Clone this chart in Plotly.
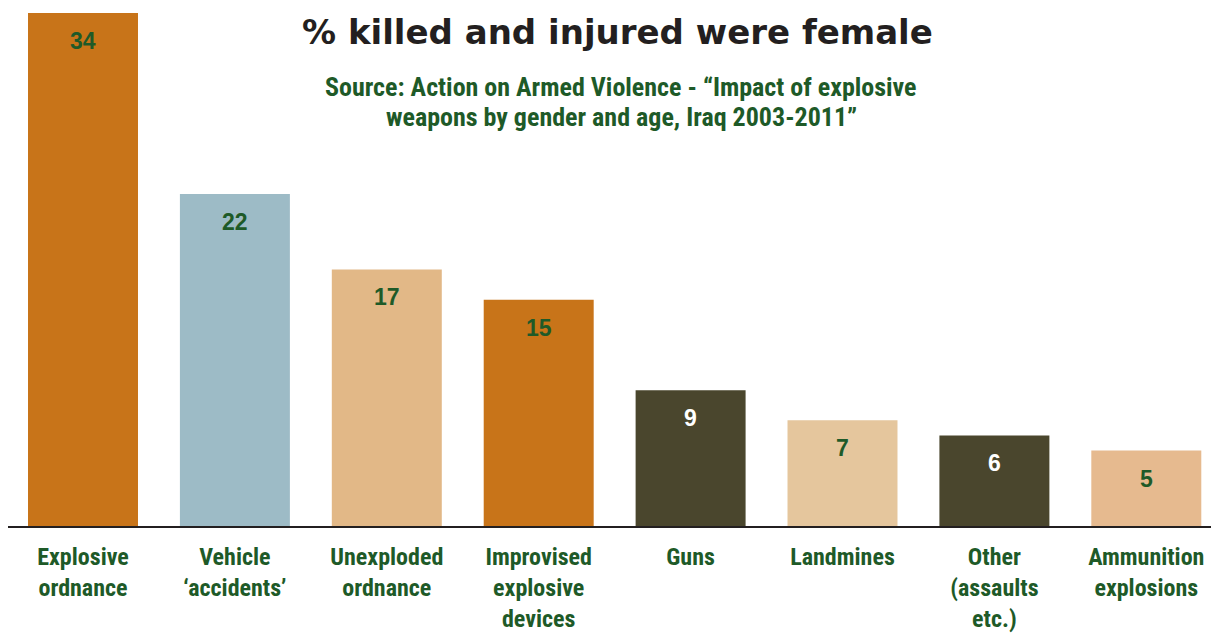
import plotly.graph_objects as go

categories = ["Explosive<br>ordnance", "Vehicle<br>‘accidents’", "Unexploded<br>ordnance",
              "Improvised<br>explosive<br>devices", "Guns", "Landmines",
              "Other<br>(assaults<br>etc.)", "Ammunition<br>explosions"]
values = [34, 22, 17, 15, 9, 7, 6, 5]
bar_colors = ["#C87419", "#9DBBC6", "#E2B887", "#C87419", "#4A462D", "#E5C69D", "#4A462D", "#E6BA8F"]
label_colors = ["#1E5A28", "#1E5A28", "#1E5A28", "#1E5A28", "#FFFFFF", "#1E5A28", "#FFFFFF", "#1E5A28"]

title_text = "% killed and injured were female"
subtitle_lines = ["Source: Action on Armed Violence - “Impact of explosive",
                  "weapons by gender and age, Iraq 2003-2011”"]

GREEN = "#1E5A28"
COND = "Liberation Sans Narrow, Roboto Condensed, Arial Narrow, sans-serif"

OFF = 8                      # page body margin
W, H = 1219 - OFF, 634 - OFF
L = 0
BASE = 526 - OFF             # baseline in figure px
B = H - BASE
PW, PH = W - L, BASE
STEP = 151.9                 # px per category
FIRST = 83 - OFF             # first bar centre in figure px


def px(xw):
    return (xw - OFF - L) / PW


def py(yw):
    return (PH - (yw - OFF)) / PH


fig = go.Figure()
fig.add_trace(go.Bar(
    x=list(range(len(values))), y=values,
    marker=dict(color=bar_colors, line=dict(width=0)),
    width=0.724, hoverinfo="skip",
))

for i, (v, c) in enumerate(zip(values, label_colors)):
    fig.add_annotation(x=i, y=v, xref="x", yref="y", text=f"<b>{v}</b>",
                       showarrow=False, yshift=-28, yanchor="middle",
                       font=dict(family="Liberation Sans, Arial, sans-serif", size=23, color=c))

fig.add_annotation(x=px(617), y=py(32), xref="paper", yref="paper", text=f"<b>{title_text}</b>",
                   showarrow=False, xanchor="center", yanchor="middle",
                   font=dict(family="DejaVu Sans, sans-serif", size=34, color="#231F20"))

for k, line in enumerate(subtitle_lines):
    fig.add_annotation(x=px(621), y=py(87 + 30 * k), xref="paper", yref="paper",
                       text=f"<b>{line}</b>", showarrow=False, xanchor="center", yanchor="middle",
                       font=dict(family=COND, size=26, color=GREEN))

fig.update_layout(
    width=W, height=H,
    margin=dict(l=L, r=0, t=0, b=B, pad=0, autoexpand=False),
    paper_bgcolor="white", plot_bgcolor="white",
    showlegend=False,
    xaxis=dict(
        tickmode="array", tickvals=list(range(len(values))), ticktext=[f"<b>{c}</b>" for c in categories],
        range=[-FIRST / STEP, (PW - FIRST) / STEP],
        showline=True, linecolor="#231F20", linewidth=2,
        ticks="outside", ticklen=8, tickcolor="rgba(0,0,0,0)",
        tickfont=dict(family=COND, size=24, color=GREEN),
        showgrid=False, zeroline=False, fixedrange=True, automargin=False,
    ),
    yaxis=dict(range=[0, PH / 15.09], visible=False, fixedrange=True, automargin=False),
)

fig.write_html("out.html")
